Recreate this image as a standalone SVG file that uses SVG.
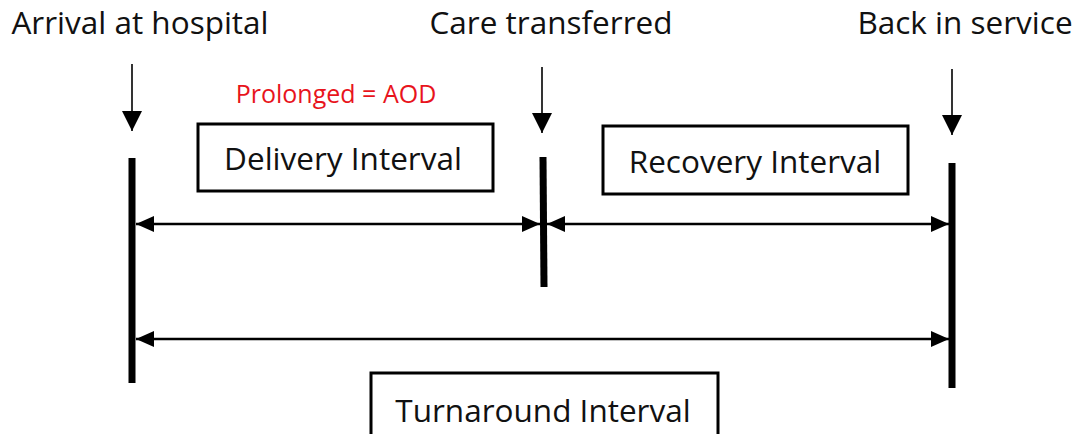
<svg xmlns="http://www.w3.org/2000/svg" width="1077" height="434" viewBox="0 0 1077 434">
  <style>
    .lbl { font-family: "Open Sans", "Noto Sans", "DejaVu Sans", sans-serif; font-size: 31.5px; fill: #111; text-anchor: middle; }
    .note { font-family: "Open Sans", "Noto Sans", "DejaVu Sans", sans-serif; font-size: 25px; fill: #e8141c; text-anchor: middle; }
    .box { fill: #fff; stroke: #000; stroke-width: 3; }
    .bar { stroke: #000; stroke-width: 7; }
    .tick { stroke: #000; stroke-width: 1.6; }
    .span { stroke: #000; stroke-width: 2.5; }
  </style>
  <defs>
    <marker id="head" viewBox="0 0 18 16" refX="18" refY="8" markerWidth="18" markerHeight="16" markerUnits="userSpaceOnUse" orient="auto-start-reverse">
      <path d="M0,0 L18,8 L0,16 Z" fill="#000"/>
    </marker>
    <marker id="drop" viewBox="0 0 20 20" refX="20" refY="10" markerWidth="20" markerHeight="20" markerUnits="userSpaceOnUse" orient="auto">
      <path d="M0,0 L20,10 L0,20 Z" fill="#000"/>
    </marker>
  </defs>

  <rect width="1077" height="434" fill="#fff"/>

  <!-- milestone labels, pointers and timeline bars -->
  <g id="arrival">
    <text class="lbl" x="140" y="34">Arrival at hospital</text>
    <line class="tick" x1="132" y1="64" x2="132" y2="131" marker-end="url(#drop)"/>
    <line class="bar" x1="132" y1="158" x2="132" y2="383"/>
  </g>
  <g id="care-transferred">
    <text class="lbl" x="551" y="34">Care transferred</text>
    <line class="tick" x1="542" y1="67" x2="542" y2="133" marker-end="url(#drop)"/>
    <line class="bar" x1="543" y1="157" x2="544" y2="287"/>
  </g>
  <g id="back-in-service">
    <text class="lbl" x="965" y="34">Back in service</text>
    <line class="tick" x1="952" y1="69" x2="952" y2="135" marker-end="url(#drop)"/>
    <line class="bar" x1="952" y1="163" x2="952" y2="388"/>
  </g>

  <!-- interval boxes -->
  <g id="delivery">
    <text class="note" x="336" y="103">Prolonged = AOD</text>
    <rect class="box" x="198" y="124" width="295" height="67"/>
    <text class="lbl" x="343" y="169.5">Delivery Interval</text>
  </g>
  <g id="recovery">
    <rect class="box" x="603" y="126" width="305" height="68"/>
    <text class="lbl" x="755" y="173">Recovery Interval</text>
  </g>
  <g id="turnaround">
    <rect class="box" x="371" y="373" width="347" height="70"/>
    <text class="lbl" x="543" y="422">Turnaround Interval</text>
  </g>

  <!-- span connectors -->
  <g id="connectors">
    <line class="span" x1="136" y1="224" x2="540" y2="224" marker-start="url(#head)" marker-end="url(#head)"/>
    <line class="span" x1="547" y1="224" x2="949" y2="224" marker-start="url(#head)" marker-end="url(#head)"/>
    <line class="span" x1="136" y1="339" x2="949" y2="339" marker-start="url(#head)" marker-end="url(#head)"/>
  </g>
</svg>
